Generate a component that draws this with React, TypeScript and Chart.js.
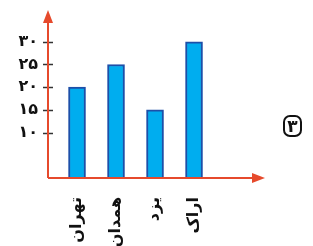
import React, { useEffect, useRef } from "react";
import { Chart, registerables } from "chart.js";

Chart.register(...registerables);

const CATEGORIES = ["تهران", "همدان", "یزد", "اراک"];
const VALUES = [20, 25, 15, 30];
const Y_TICKS = [10, 15, 20, 25, 30];
const PANEL_NUMBER = "۳";

const FA_DIGITS = "۰۱۲۳۴۵۶۷۸۹";
const toFa = (n: number) => String(n).replace(/\d/g, (d) => FA_DIGITS[+d]);

const AXIS_COLOR = "#e64a2c";

const axesPlugin = {
  id: "axesArrows",
  afterDraw(chart: any) {
    const { ctx, chartArea } = chart;
    const { left, right, top, bottom } = chartArea;
    const ys = chart.scales.y;
    ctx.save();
    ctx.strokeStyle = "#333";
    ctx.lineWidth = 1.5;
    Y_TICKS.forEach((v) => {
      const y = Math.round(ys.getPixelForValue(v)) + 0.5;
      ctx.beginPath();
      ctx.moveTo(left - 5, y);
      ctx.lineTo(left + 5, y);
      ctx.stroke();
    });
    ctx.strokeStyle = AXIS_COLOR;
    ctx.fillStyle = AXIS_COLOR;
    ctx.lineWidth = 2;
    ctx.beginPath();
    ctx.moveTo(left, bottom);
    ctx.lineTo(left, top + 8);
    ctx.moveTo(left, bottom);
    ctx.lineTo(right - 8, bottom);
    ctx.stroke();
    ctx.beginPath();
    ctx.moveTo(left, top);
    ctx.lineTo(left - 5, top + 13);
    ctx.lineTo(left + 5, top + 13);
    ctx.closePath();
    ctx.fill();
    ctx.beginPath();
    ctx.moveTo(right, bottom);
    ctx.lineTo(right - 13, bottom - 5);
    ctx.lineTo(right - 13, bottom + 5);
    ctx.closePath();
    ctx.fill();
    ctx.restore();
  },
};

export default function App() {
  const ref = useRef<HTMLCanvasElement>(null);

  useEffect(() => {
    if (!ref.current) return;
    const chart = new Chart(ref.current, {
      type: "bar",
      data: {
        datasets: [
          {
            data: VALUES.map((v, i) => ({ x: i, y: v })),
            backgroundColor: "#00adef",
            borderColor: "#1d4fa8",
            borderWidth: 2,
            borderSkipped: "bottom",
            barThickness: 17,
          },
        ],
      },
      options: {
        responsive: false,
        animation: false,
        devicePixelRatio: 1,
        layout: { padding: { top: 10, right: 48, left: 0, bottom: 0 } },
        plugins: { legend: { display: false }, tooltip: { enabled: false } },
        scales: {
          x: {
            type: "linear",
            min: -0.744,
            max: 4.82,
            offset: false,
            grid: { display: false, offset: false, drawTicks: false },
            border: { display: false },
            afterBuildTicks: (scale: any) => {
              scale.ticks = CATEGORIES.map((_, i) => ({ value: i }));
            },
            afterFit: (scale: any) => {
              scale.height = 68;
              scale.paddingLeft = 0;
              scale.paddingRight = 0;
            },
            ticks: {
              minRotation: 90,
              maxRotation: 90,
              autoSkip: false,
              padding: 19,
              color: "#111",
              font: { family: "DejaVu Sans", size: 16, weight: "bold" },
              callback: (v: any) => CATEGORIES[v as number] ?? "",
            },
          },
          y: {
            min: 0,
            max: 37,
            grid: { display: false, drawTicks: false },
            border: { display: false },
            afterBuildTicks: (scale: any) => {
              scale.ticks = Y_TICKS.map((v) => ({ value: v }));
            },
            afterFit: (scale: any) => {
              scale.width = 48;
              scale.paddingTop = 0;
              scale.paddingBottom = 0;
            },
            ticks: {
              padding: 10,
              color: "#111",
              font: { family: "DejaVu Sans", size: 16, weight: "bold" },
              callback: (v: any) => toFa(v as number),
            },
          },
        },
      },
      plugins: [axesPlugin],
    } as any);
    return () => chart.destroy();
  }, []);

  return (
    <div
      style={{
        position: "fixed",
        left: 0,
        top: 0,
        width: 313,
        height: 246,
        background: "#fff",
      }}
    >
      <canvas ref={ref} width={313} height={246} />
      <div
        style={{
          position: "absolute",
          left: 283,
          top: 115,
          width: 15,
          height: 18,
          border: "2.5px solid #111",
          borderRadius: 7,
          display: "flex",
          alignItems: "center",
          justifyContent: "center",
          fontFamily: "DejaVu Sans",
          fontWeight: "bold",
          fontSize: 17,
          color: "#111",
          lineHeight: 1,
        }}
      >
        {PANEL_NUMBER}
      </div>
    </div>
  );
}
